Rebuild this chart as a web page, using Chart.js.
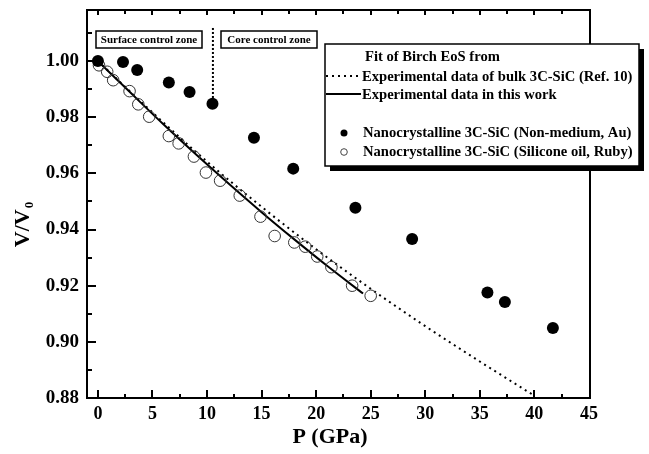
<!DOCTYPE html>
<html>
<head>
<meta charset="utf-8">
<script src="https://cdn.jsdelivr.net/npm/chart.js@4/dist/chart.umd.min.js"></script>
<style>
html,body{margin:0;padding:0;background:#fff;}
#wrap{width:649px;height:454px;}
</style>
</head>
<body>
<div id="wrap"><canvas id="c" width="649" height="454"></canvas></div>
<script>
// ---- data ----
const filledP = [0, 2.3, 3.6, 6.5, 8.4, 10.5, 14.3, 17.9, 23.6, 28.8, 35.7, 37.3, 41.7];
const filledV = [1.000, 0.9997, 0.9968, 0.9924, 0.9890, 0.9848, 0.9727, 0.9617, 0.9478, 0.9366, 0.9176, 0.9142, 0.9049];
const openP = [0.1, 0.85, 1.4, 2.9, 3.7, 4.7, 6.5, 7.4, 8.8, 9.9, 11.2, 13.0, 14.9, 16.2, 18.0, 19.0, 20.1, 21.4, 23.3, 25.0];
const openV = [0.9985, 0.9962, 0.9932, 0.9893, 0.9846, 0.9802, 0.9733, 0.9707, 0.9660, 0.9603, 0.9574, 0.9521, 0.9446, 0.9377, 0.9354, 0.9339, 0.9304, 0.9266, 0.9200, 0.9164];
const fitThisP = [0, 3, 6, 9, 12, 15, 18, 21, 24.3];
const fitThisV = [1.000, 0.9887, 0.9775, 0.9667, 0.9563, 0.9462, 0.9365, 0.9271, 0.9172];
const fitBulkP = [0, 5, 10, 15, 20, 25, 30, 35, 40];
const fitBulkV = [1.000, 0.9817, 0.9642, 0.9481, 0.9330, 0.9189, 0.9056, 0.8930, 0.8808];
const dividerP = [10.54, 10.54];
const dividerV = [1.0118, 0.9862];
const xTicks = [0, 5, 10, 15, 20, 25, 30, 35, 40, 45];
const xMinorTicks = [2.5, 7.5, 12.5, 17.5, 22.5, 27.5, 32.5, 37.5, 42.5];
const yTicks = [0.88, 0.90, 0.92, 0.94, 0.96, 0.98, 1.00];
const yMinorTicks = [0.89, 0.91, 0.93, 0.95, 0.97, 0.99, 1.01];
const zoneLabels = ["Surface control zone", "Core control zone"];
const legendTitle = "Fit of Birch EoS from";
const labelBulk = "Experimental data of bulk 3C-SiC (Ref. 10)";
const labelThis = "Experimental data in this work";
const labelFilled = "Nanocrystalline 3C-SiC (Non-medium, Au)";
const labelOpen = "Nanocrystalline 3C-SiC (Silicone oil, Ruby)";
const xTitle = "P (GPa)";

const pts = (xs, ys) => xs.map((x, i) => ({x: x, y: ys[i]}));
const SERIF = "'Liberation Serif', 'Times New Roman', serif";

const framePlugin = {
  id: 'frame',
  afterDatasetsDraw(chart) {
    const ctx = chart.ctx, a = chart.chartArea;
    const xs = chart.scales.x, ys = chart.scales.y;
    ctx.save();
    ctx.strokeStyle = '#000';
    ctx.lineWidth = 2;
    ctx.strokeRect(a.left, a.top, a.right - a.left, a.bottom - a.top);
    ctx.beginPath();
    xTicks.forEach(v => {
      const px = Math.round(xs.getPixelForValue(v));
      if (px > a.left + 2 && px < a.right - 2) {
        ctx.moveTo(px, a.bottom); ctx.lineTo(px, a.bottom - 8);
        ctx.moveTo(px, a.top); ctx.lineTo(px, a.top + 5);
      }
    });
    xMinorTicks.forEach(v => {
      const px = Math.round(xs.getPixelForValue(v));
      ctx.moveTo(px, a.bottom); ctx.lineTo(px, a.bottom - 4);
      ctx.moveTo(px, a.top); ctx.lineTo(px, a.top + 4);
    });
    yTicks.forEach(v => {
      const py = Math.round(ys.getPixelForValue(v));
      if (py < a.bottom - 2) { ctx.moveTo(a.left, py); ctx.lineTo(a.left + 9, py); }
    });
    yMinorTicks.forEach(v => {
      const py = Math.round(ys.getPixelForValue(v));
      ctx.moveTo(a.left, py); ctx.lineTo(a.left + 5, py);
    });
    ctx.stroke();

    ctx.fillStyle = '#000';
    // x title
    ctx.font = "bold 22px " + SERIF;
    ctx.textAlign = 'center';
    ctx.textBaseline = 'middle';
    ctx.fillText(xTitle, 330, 437);

    // y title with subscript
    ctx.save();
    ctx.translate(23, 225);
    ctx.rotate(-Math.PI / 2);
    ctx.font = "bold 22px " + SERIF;
    const w1 = ctx.measureText("V/V").width;
    ctx.font = "bold 13px " + SERIF;
    const w2 = ctx.measureText("0").width;
    const x0 = -(w1 + w2) / 2;
    ctx.textAlign = 'left';
    ctx.font = "bold 22px " + SERIF;
    ctx.fillText("V/V", x0, 0);
    ctx.font = "bold 13px " + SERIF;
    ctx.fillText("0", x0 + w1 + 1, 7);
    ctx.restore();

    // zone label boxes
    ctx.font = "bold 11px " + SERIF;
    ctx.textAlign = 'center';
    ctx.lineWidth = 1.5;
    const boxes = [[96, 202], [221, 317]];
    boxes.forEach((b, i) => {
      ctx.fillStyle = '#fff';
      ctx.fillRect(b[0], 31, b[1] - b[0], 17);
      ctx.strokeRect(b[0], 31, b[1] - b[0], 17);
      ctx.fillStyle = '#000';
      ctx.fillText(zoneLabels[i], (b[0] + b[1]) / 2, 40);
    });

    // legend box with shadow
    const L = 325, T = 44, R = 639, B = 166;
    ctx.fillStyle = '#000';
    ctx.fillRect(L + 5, T + 5, R - L, B - T);
    ctx.fillStyle = '#fff';
    ctx.fillRect(L, T, R - L, B - T);
    ctx.lineWidth = 1.5;
    ctx.strokeRect(L, T, R - L, B - T);
    ctx.fillStyle = '#000';
    ctx.textAlign = 'left';
    ctx.font = "bold 14.6px " + SERIF;
    ctx.fillText(legendTitle, 365, 57);
    ctx.fillText(labelBulk, 362, 77);
    ctx.fillText(labelThis, 362, 95);
    ctx.fillText(labelFilled, 363, 133);
    ctx.fillText(labelOpen, 363, 152);
    ctx.lineWidth = 2;
    ctx.setLineDash([2, 4]);
    ctx.beginPath(); ctx.moveTo(326, 76); ctx.lineTo(361, 76); ctx.stroke();
    ctx.setLineDash([]);
    ctx.beginPath(); ctx.moveTo(326, 94); ctx.lineTo(361, 94); ctx.stroke();
    ctx.beginPath(); ctx.arc(344, 133, 3.5, 0, Math.PI * 2); ctx.fill();
    ctx.lineWidth = 1;
    ctx.strokeStyle = '#444';
    ctx.beginPath(); ctx.arc(344, 152, 3.3, 0, Math.PI * 2); ctx.stroke();
    ctx.restore();
  }
};

new Chart(document.getElementById('c'), {
  type: 'scatter',
  data: {
    datasets: [
      { label: labelBulk, data: pts(fitBulkP, fitBulkV), showLine: true, borderColor: '#000', borderWidth: 2,
        borderDash: [2, 4], pointRadius: 0, cubicInterpolationMode: 'monotone', order: 3 },
      { label: labelThis, data: pts(fitThisP, fitThisV), showLine: true, borderColor: '#000', borderWidth: 2,
        pointRadius: 0, cubicInterpolationMode: 'monotone', order: 2 },
      { label: 'divider', data: pts(dividerP, dividerV), showLine: true, borderColor: '#000', borderWidth: 2,
        borderDash: [2, 2], pointRadius: 0, order: 4 },
      { label: labelOpen, data: pts(openP, openV), pointRadius: 5.8, pointBorderWidth: 1,
        pointBorderColor: '#333', pointBackgroundColor: 'rgba(0,0,0,0)', order: 1 },
      { label: labelFilled, data: pts(filledP, filledV), pointRadius: 6, pointBorderWidth: 0,
        pointBackgroundColor: '#000', pointBorderColor: '#000', order: 0 }
    ]
  },
  options: {
    responsive: false,
    animation: false,
    devicePixelRatio: 1,
    layout: { padding: { left: 0, top: 10, right: 59, bottom: 0 } },
    plugins: { legend: { display: false }, tooltip: { enabled: false } },
    scales: {
      x: {
        type: 'linear', min: -1, max: 45.1,
        afterBuildTicks: s => { s.ticks = xTicks.map(v => ({ value: v })); },
        afterFit: s => { s.height = 56; s.paddingLeft = 0; s.paddingRight = 0; },
        grid: { display: false, drawTicks: false },
        border: { display: false },
        ticks: { color: '#000', padding: 6, font: { family: SERIF, size: 18, weight: 'bold' }, maxRotation: 0 }
      },
      y: {
        type: 'linear', min: 0.88, max: 1.0182,
        afterBuildTicks: s => { s.ticks = yTicks.map(v => ({ value: v })); },
        afterFit: s => { s.width = 87; s.paddingTop = 0; s.paddingBottom = 0; },
        grid: { display: false, drawTicks: false },
        border: { display: false },
        ticks: { color: '#000', padding: 8, font: { family: SERIF, size: 19, weight: 'bold' },
                 callback: v => v.toFixed(2) }
      }
    }
  },
  plugins: [framePlugin]
});
</script>
</body>
</html>
